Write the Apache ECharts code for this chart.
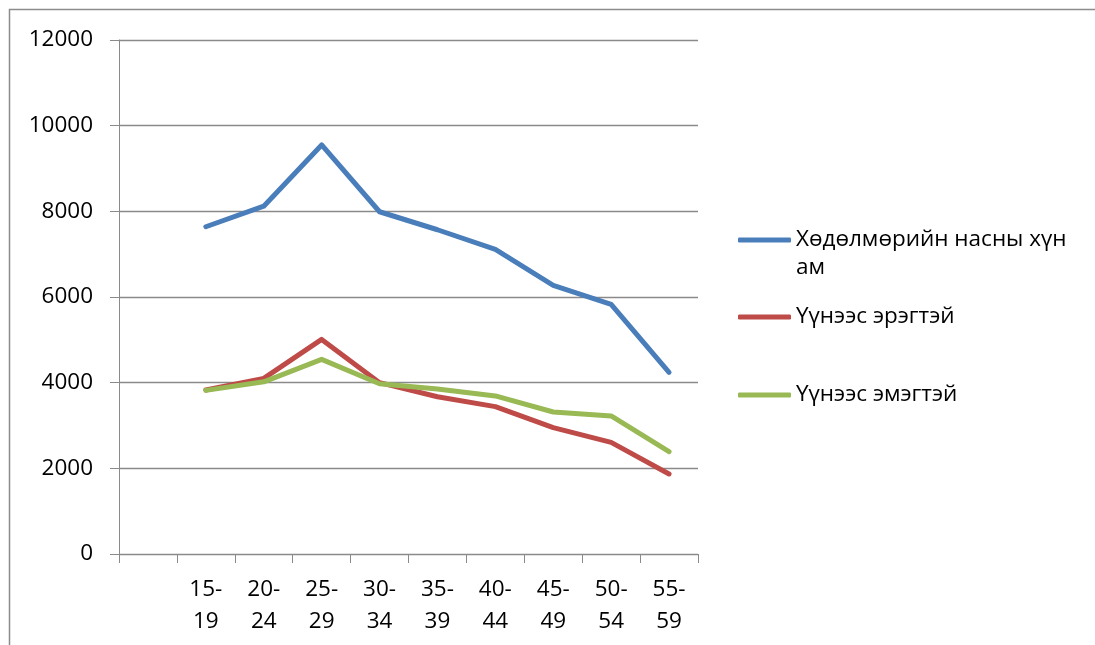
<!DOCTYPE html>
<html>
<head>
<meta charset="utf-8">
<script src="https://cdn.jsdelivr.net/npm/echarts@6/dist/echarts.min.js"></script>
<style>
html,body{margin:0;padding:0;background:#fff;}
#c{width:1095px;height:645px;}
</style>
</head>
<body>
<div id="c"></div>
<script>
const categories = ["", "15-19", "20-24", "25-29", "30-34", "35-39", "40-44", "45-49", "50-54", "55-59"];
const seriesNames = ["Хөдөлмөрийн насны хүн ам", "Үүнээс эрэгтэй", "Үүнээс эмэгтэй"];
const totalPop = [null, 7640, 8120, 9550, 7990, 7570, 7110, 6270, 5830, 4240];
const male = [null, 3830, 4100, 5010, 4000, 3670, 3440, 2950, 2607, 1868];
const female = [null, 3820, 4020, 4545, 3975, 3850, 3690, 3315, 3222, 2389];
const yTicks = { min: 0, max: 12000, interval: 2000 };
const colors = ["#4A7EBB", "#BE4B48", "#98B954"];

const chart = echarts.init(document.getElementById('c'), null, { renderer: 'canvas' });
const font = '"Open Sans", "Noto Sans", sans-serif';
const gridGray = '#8a8a8a';

function mkSeries(name, data, color) {
  return {
    name: name, type: 'line', data: data, showSymbol: false, symbol: 'none',
    connectNulls: false, animation: false,
    lineStyle: { color: color, width: 5, cap: 'round', join: 'round' },
    itemStyle: { color: color }
  };
}
function mkLegend(name, top, formatter) {
  return {
    data: [name], left: 738, top: top, orient: 'vertical', padding: 0,
    icon: 'roundRect', itemWidth: 53, itemHeight: 5, selectedMode: false,
    textStyle: { fontFamily: font, fontSize: 22.5, color: '#000', lineHeight: 28, padding: [0,0,0,0] },
    formatter: formatter
  };
}

chart.setOption({
  animation: false,
  textStyle: { fontFamily: font },
  graphic: [{
    type: 'polyline', silent: true,
    shape: { points: [[9.5, 700], [9.5, 9.5], [1200, 9.5]] },
    style: { stroke: '#8c8c8c', lineWidth: 1.5, fill: null }
  }],
  grid: { left: 119, right: 397, top: 40, bottom: 91, containLabel: false },
  legend: [
    mkLegend(seriesNames[0], 198, function () { return ' \nХөдөлмөрийн насны хүн\nам'; }),
    mkLegend(seriesNames[1], 303),
    mkLegend(seriesNames[2], 381)
  ],
  xAxis: {
    type: 'category', data: categories, boundaryGap: true,
    axisLine: { lineStyle: { color: gridGray, width: 1 } },
    axisTick: { show: true, length: 9, interval: 0, lineStyle: { color: gridGray } },
    axisLabel: {
      interval: 0, margin: 20, color: '#000', fontSize: 22.5, fontFamily: font, lineHeight: 32,
      formatter: function (v) { return v.replace('-', '-\n'); }
    },
    splitLine: { show: false }
  },
  yAxis: {
    type: 'value', min: yTicks.min, max: yTicks.max, interval: yTicks.interval,
    axisLine: { show: true, lineStyle: { color: gridGray, width: 1 } },
    axisTick: { show: true, length: 9, lineStyle: { color: gridGray } },
    axisLabel: { margin: 26, color: '#000', fontSize: 22.5, fontFamily: font,
      formatter: function (v) { return String(v); } },
    splitLine: { show: true, lineStyle: { color: gridGray, width: 1.3 } }
  },
  series: [
    mkSeries(seriesNames[0], totalPop, colors[0]),
    mkSeries(seriesNames[1], male, colors[1]),
    mkSeries(seriesNames[2], female, colors[2])
  ]
});
</script>
</body>
</html>
